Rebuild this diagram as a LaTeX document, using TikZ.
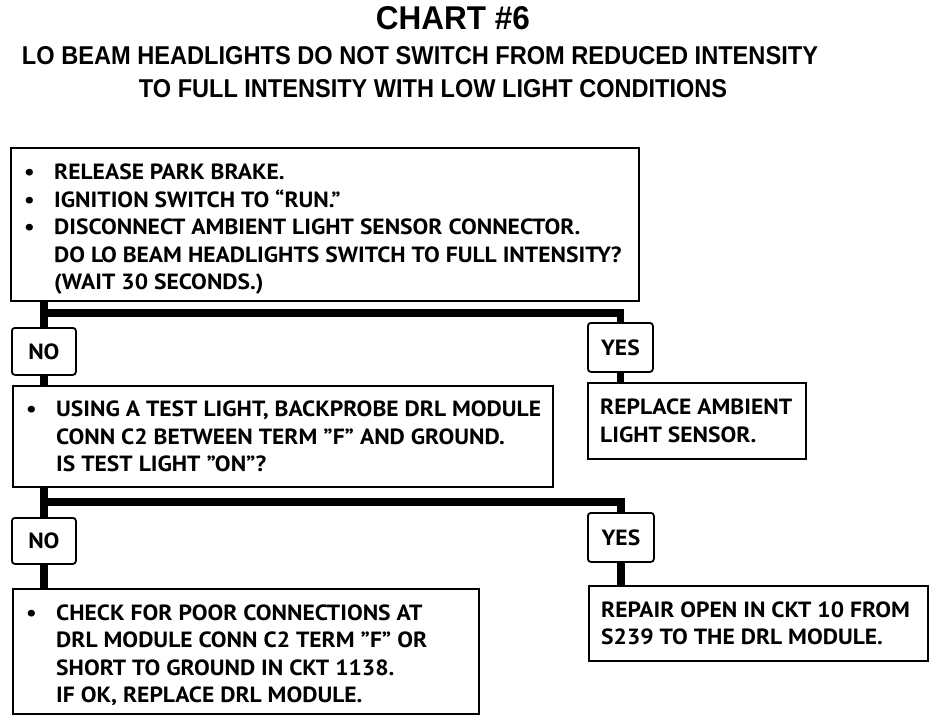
\documentclass[tikz,border=0pt]{standalone}
\usepackage{fontspec}
\setmainfont{Liberation Sans}
\newfontfamily\boxfont[FakeStretch=1.07]{PT Sans}
\newcommand\bul{\makebox[30pt][l]{\textbullet}}
\newcommand\ind{\hspace*{30pt}}
\begin{document}
\begin{tikzpicture}[x=1pt,y=-1pt,
  box/.style={draw, line width=1.8pt, inner sep=0pt, anchor=north west},
  tag/.style={draw, line width=1.8pt, rounded corners=3pt, inner sep=0pt, anchor=north west,
    font=\boxfont\bfseries\fontsize{22}{25}\selectfont},
  txt/.style={inner sep=0pt, align=left, anchor=west,
    font=\boxfont\bfseries\fontsize{22}{27.5}\selectfont},
  head/.style={inner sep=0pt, font=\bfseries},
  conn/.style={line width=7.5pt}
]
\fill[white] (0,0) rectangle (944,720);
\useasboundingbox (0,0) rectangle (944,720);

% titles
\node[head] (title) at (453,18.5) {\resizebox{154pt}{23pt}{CHART \#6}};
\node[head] (sub1) at (420,56) {\resizebox{796pt}{18pt}{LO BEAM HEADLIGHTS DO NOT SWITCH FROM REDUCED INTENSITY}};
\node[head] (sub2) at (433,89) {\resizebox{588pt}{18pt}{TO FULL INTENSITY WITH LOW LIGHT CONDITIONS}};

% boxes
\node[box, minimum width=628pt, minimum height=153pt] (b1) at (10,147) {};
\node[txt] (t1) at ([xshift=14pt,yshift=-5pt]b1.west) {\bul RELEASE PARK BRAKE.\\
\bul IGNITION SWITCH TO “RUN.”\\
\bul DISCONNECT AMBIENT LIGHT SENSOR CONNECTOR.\\
\ind DO LO BEAM HEADLIGHTS SWITCH TO FULL INTENSITY?\\
\ind (WAIT 30 SECONDS.)};

\node[tag, minimum width=64pt, minimum height=47pt] (no1) at (11,327) {NO};
\node[tag, minimum width=65pt, minimum height=49pt] (yes1) at (587,322) {YES};

\node[box, minimum width=540pt, minimum height=101pt] (b2) at (12,385) {};
\node[txt] (t2) at ([xshift=14pt]b2.west) {\bul USING A TEST LIGHT, BACKPROBE DRL MODULE\\
\ind CONN C2 BETWEEN TERM ”F” AND GROUND.\\
\ind IS TEST LIGHT ”ON”?};

\node[box, minimum width=218pt, minimum height=76pt] (b4) at (587,382) {};
\node[txt] (t4) at ([xshift=13pt]b4.west) {REPLACE AMBIENT\\ LIGHT SENSOR.};

\node[tag, minimum width=64pt, minimum height=46pt] (no2) at (11,517) {NO};
\node[tag, minimum width=66pt, minimum height=49pt] (yes2) at (587,512) {YES};

\node[box, minimum width=466pt, minimum height=125pt] (b3) at (12,588) {};
\node[txt] (t3) at ([xshift=14pt,yshift=-4pt]b3.west) {\bul CHECK FOR POOR CONNECTIONS AT\\
\ind DRL MODULE CONN C2 TERM ”F” OR\\
\ind SHORT TO GROUND IN CKT 1138.\\
\ind IF OK, REPLACE DRL MODULE.};

\node[box, minimum width=339pt, minimum height=75pt] (b5) at (588,585) {};
\node[txt] (t5) at ([xshift=13pt]b5.west) {REPAIR OPEN IN CKT 10 FROM\\ S239 TO THE DRL MODULE.};

% connectors
\coordinate (j1) at (43,313);
\coordinate (j2) at (43,502);
\draw[conn] (b1.south -| no1.north) -- (no1.north);
\draw[conn] (j1) -| (yes1.north);
\draw[conn] (no1.south) -- (b2.north -| no1.south);
\draw[conn] (yes1.south) -- (b4.north -| yes1.south);
\draw[conn] (b2.south -| no2.north) -- (no2.north);
\draw[conn] (j2) -| (yes2.north);
\draw[conn] (no2.south) -- (b3.north -| no2.south);
\draw[conn] (yes2.south) -- (b5.north -| yes2.south);
\end{tikzpicture}
\end{document}
